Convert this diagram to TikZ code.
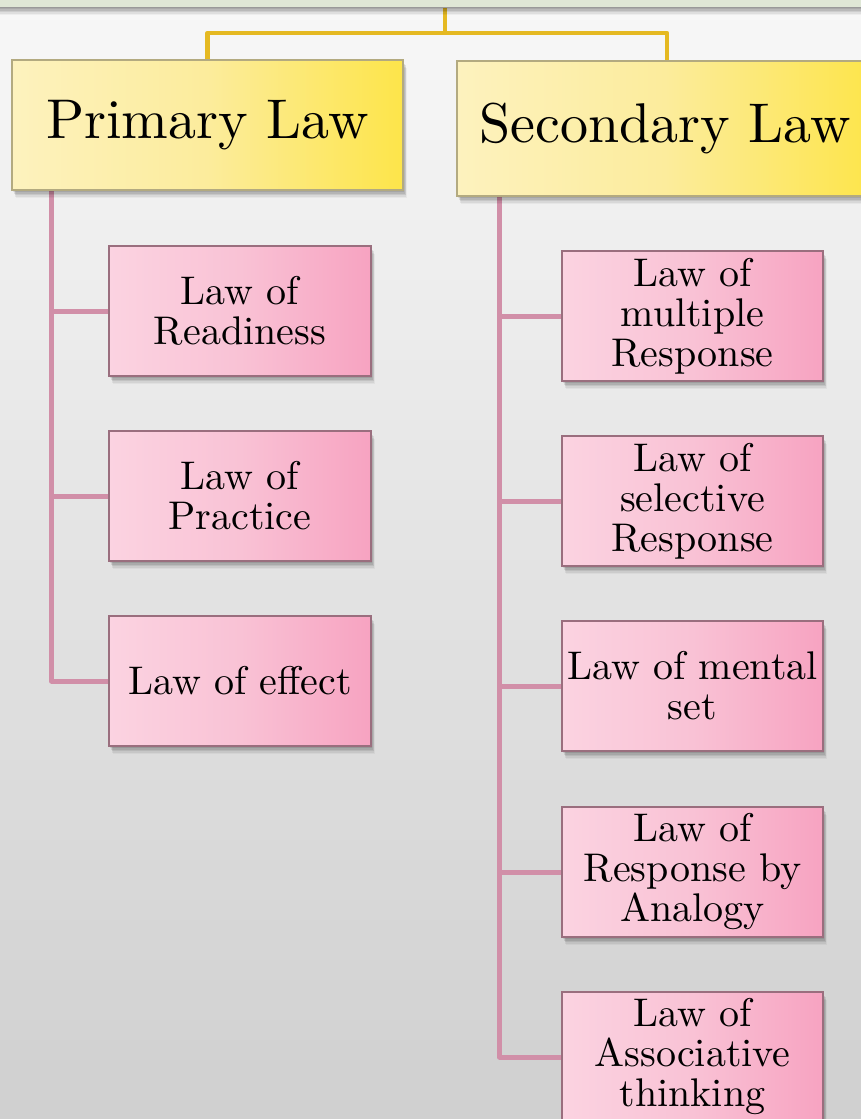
\documentclass[tikz,border=0pt]{standalone}
\usepackage{fontspec}
\setmainfont{lmroman10-regular}[Extension=.otf]
\usetikzlibrary{calc}
\pgfdeclarelayer{back}
\pgfdeclarelayer{wires}
\pgfsetlayers{back,wires,main}
\definecolor{bgtop}{HTML}{F7F7F7}
\definecolor{bgbot}{HTML}{D0D0D0}
\definecolor{yelL}{HTML}{FDF2BE}
\definecolor{yelM}{HTML}{FCEC9C}
\definecolor{yelR}{HTML}{FDE54A}
\definecolor{yelEdge}{HTML}{B3AA80}
\definecolor{pnkL}{HTML}{FBD3E1}
\definecolor{pnkM}{HTML}{F9C2D5}
\definecolor{pnkR}{HTML}{F7A3C1}
\definecolor{pnkEdge}{HTML}{9A6E7E}
\definecolor{goldwire}{HTML}{E5B922}
\definecolor{pinkwire}{HTML}{D18FA8}
\definecolor{topband}{HTML}{DFE7D6}
\tikzset{
  x=1pt, y=-1pt,
  softshadow/.style={
    preaction={fill=black, fill opacity=0.09, draw=none, transform canvas={shift={(1,2)}}},
    preaction={fill=black, fill opacity=0.09, draw=none, transform canvas={shift={(2,3.5)}}},
    preaction={fill=black, fill opacity=0.08, draw=none, transform canvas={shift={(2.5,5)}}},
    preaction={fill=black, fill opacity=0.06, draw=none, transform canvas={shift={(3,6.5)}}},
    preaction={fill=black, fill opacity=0.04, draw=none, transform canvas={shift={(3.5,8)}}}},
  headbox/.style={softshadow, draw=yelEdge, line width=1.3pt, left color=yelL, right color=yelR,
    middle color=yelM, minimum width=391pt, minimum height=130pt, inner sep=0pt,
    align=center, font=\fontsize{56}{60}\selectfont},
  lawbox/.style={softshadow, draw=pnkEdge, line width=1.3pt, left color=pnkL, right color=pnkR,
    middle color=pnkM, minimum width=261pt, minimum height=130pt, inner sep=0pt,
    align=center, font=\fontsize{40}{40}\selectfont},
  goldline/.style={draw=goldwire, line width=4.5pt, line join=round},
  pinkline/.style={draw=pinkwire, line width=5pt, line join=round},
}
\begin{document}
\begin{tikzpicture}
\useasboundingbox (0,0) rectangle (861,1119);
\begin{pgfonlayer}{back}
  % page background: light grey fading darker towards the bottom
  \foreach \i in {0,...,55} {
    \pgfmathsetmacro{\t}{100-\i*100/55}
    \fill[bgtop!\t!bgbot] (0,\i*20) rectangle (861,\i*20+21);
  }
\end{pgfonlayer}

% parent band along the top edge
\node[softshadow, draw=gray!80, line width=1pt, fill=topband, minimum width=880pt, minimum height=40pt,
  inner sep=0pt] (root) at (430,-13) {};
\coordinate (rootbot) at (445,7);
\coordinate (bar) at (445,33);

% level one
\node[headbox, minimum width=391pt] (prim) at (207.5,125) {Primary Law};
\node[headbox, minimum width=416pt, minimum height=135pt] (sec) at (665,128.5) {Secondary Law};

% primary laws
\node[lawbox, minimum width=262pt] (lp1) at (240,311) {Law of\\Readiness};
\node[lawbox, minimum width=262pt] (lp2) at (240,496) {Law of\\Practice};
\node[lawbox, minimum width=262pt] (lp3) at (240,681) {Law of effect};

% secondary laws
\node[lawbox] (ls1) at (692.5,316) {Law of\\multiple\\Response};
\node[lawbox] (ls2) at (692.5,501) {Law of\\selective\\Response};
\node[lawbox] (ls3) at (692.5,686) {Law of mental\\set};
\node[lawbox] (ls4) at (692.5,872) {Law of\\Response by\\Analogy};
\node[lawbox] (ls5) at (692.5,1057) {Law of\\Associative\\thinking};

\coordinate (ltrunk) at ([xshift=40pt]prim.south west);
\coordinate (rtrunk) at ([xshift=43pt]sec.south west);

\begin{pgfonlayer}{wires}
  \draw[goldline] (rootbot) -- (bar);
  \draw[goldline] (prim.north) |- (bar) -| ([xshift=2pt]sec.north);
  \foreach \n in {lp1,lp2,lp3} \draw[pinkline] (ltrunk) |- (\n.west);
  \foreach \n in {ls1,ls2,ls3,ls4,ls5} \draw[pinkline] (rtrunk) |- (\n.west);
\end{pgfonlayer}
\end{tikzpicture}
\end{document}
